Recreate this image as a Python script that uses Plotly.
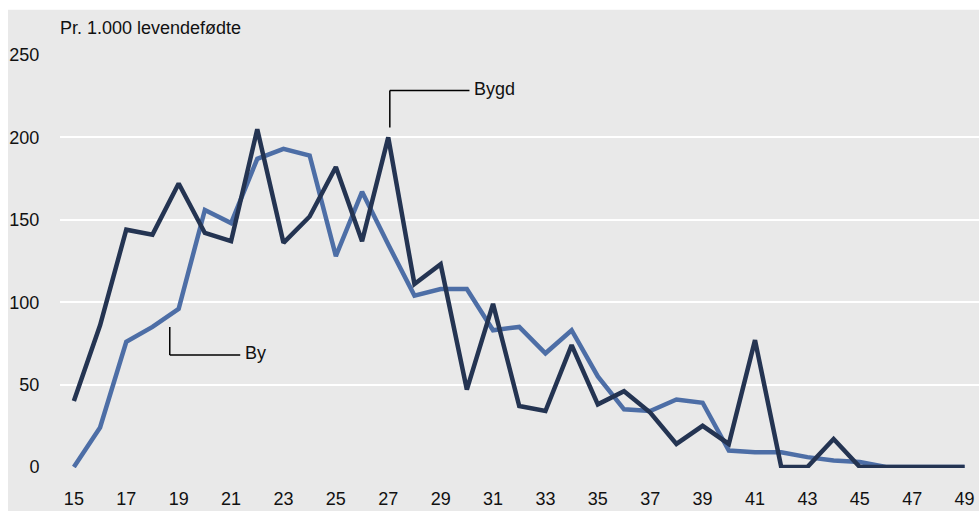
import plotly.graph_objects as go

# ── Data ──────────────────────────────────────────────────────────────────────
AGES = list(range(15, 50))

BYGD = [40, 86, 144, 141, 172, 142, 137, 205, 136, 152,
        182, 137, 200, 111, 123, 47, 99, 37, 34, 74,
        38, 46, 33, 14, 25, 14, 77, 0, 0, 17,
        0, 0, 0, 0, 0]

BY = [0, 24, 76, 85, 96, 156, 148, 187, 193, 189,
      128, 167, 135, 104, 108, 108, 83, 85, 69, 83,
      55, 35, 34, 41, 39, 10, 9, 9, 6, 4,
      3, 0, 0, 0, 0]

X_TICKS = list(range(15, 50, 2))
Y_TICKS = [0, 50, 100, 150, 200, 250]

# ── Style tokens ──────────────────────────────────────────────────────────────
DARK = "#243452"
BLUE = "#4d6ea6"
PAPER = "#e9e9e9"
PLOT = "#dddddd"
TEXT = "#111111"
FONT = "Liberation Sans Narrow, Arial Narrow, Liberation Sans, sans-serif"

fig = go.Figure()
fig.add_trace(go.Scatter(x=AGES, y=BY, mode="lines", name="By",
                         line=dict(color=BLUE, width=4.5)))
fig.add_trace(go.Scatter(x=AGES, y=BYGD, mode="lines", name="Bygd",
                         line=dict(color=DARK, width=4.5)))

# light grey panel with a thin white border on the left and top
fig.add_shape(type="rect", xref="paper", yref="paper",
              x0=-0.0566, x1=2, y0=-1, y1=1.107,
              fillcolor=PAPER, line=dict(width=0), layer="below")

# leader lines for the series labels
line_style = dict(color="black", width=1.5)
fig.add_shape(type="line", x0=18.66, x1=18.66, y0=85, y1=68, line=line_style)
fig.add_shape(type="line", x0=18.66, x1=21.35, y0=68, y1=68, line=line_style)
fig.add_shape(type="line", x0=27.06, x1=27.06, y0=206, y1=228.5, line=line_style)
fig.add_shape(type="line", x0=27.06, x1=30.1, y0=228.5, y1=228.5, line=line_style)

fig.add_annotation(x=21.45, y=69, text="By", showarrow=False,
                   xanchor="left", yanchor="middle",
                   font=dict(family=FONT, size=18, color=TEXT))
fig.add_annotation(x=30.2, y=229.5, text="Bygd", showarrow=False,
                   xanchor="left", yanchor="middle",
                   font=dict(family=FONT, size=18, color=TEXT))
fig.add_annotation(xref="paper", yref="paper", x=-0.002, y=1.063,
                   text="Pr. 1.000 levendefødte", showarrow=False,
                   xanchor="left", yanchor="middle",
                   font=dict(family=FONT, size=18, color=TEXT))

fig.update_layout(
    width=979, height=511,
    paper_bgcolor="white",
    plot_bgcolor=PLOT,
    showlegend=False,
    margin=dict(l=60, r=0, t=54, b=43),
    font=dict(family=FONT, size=18, color=TEXT),
    xaxis=dict(
        range=[14.47, 49.55],
        tickvals=X_TICKS,
        showgrid=False, zeroline=False, showline=False,
        ticks="outside", ticklen=14, tickcolor="rgba(0,0,0,0)",
        tickfont=dict(size=18), automargin=False,
    ),
    yaxis=dict(
        range=[-0.6, 250.6],
        tickvals=Y_TICKS,
        gridcolor="white", gridwidth=2,
        zeroline=False, showline=False,
        ticks="outside", ticklen=16, tickcolor="rgba(0,0,0,0)",
        tickfont=dict(size=18), automargin=False,
    ),
)

# drop the default page margin so the figure fills the window exactly
fig.write_html("out.html",
               config={"displayModeBar": False},
               post_script="document.body.style.margin='0';"
                           "document.body.style.overflow='hidden';")
